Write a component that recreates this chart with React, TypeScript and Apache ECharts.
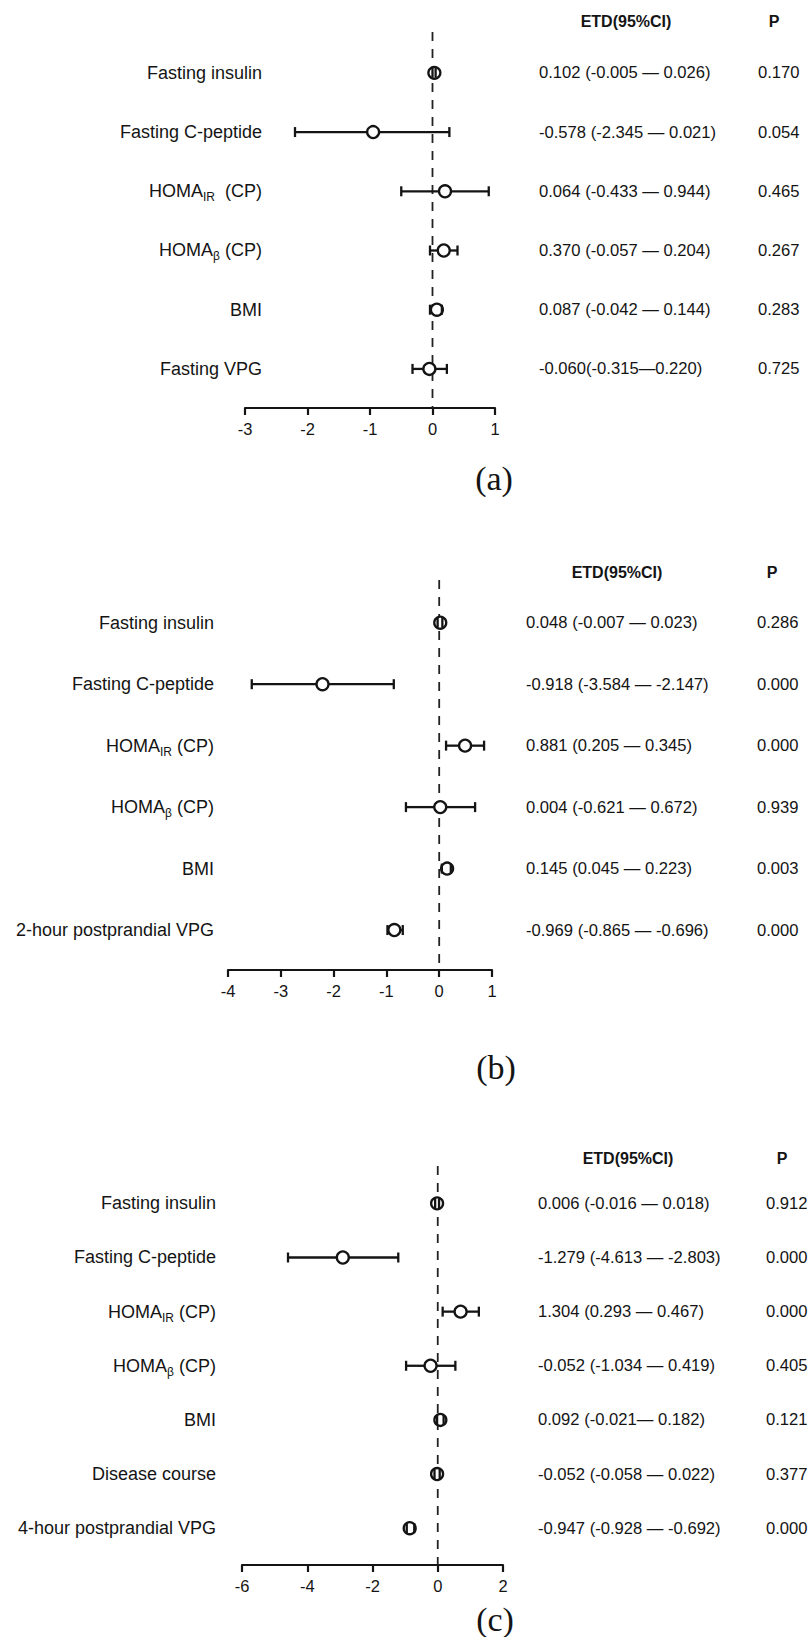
import React, { useEffect, useRef } from 'react';
import * as echarts from 'echarts';

const FONT = '"Liberation Sans", Arial, Helvetica, sans-serif';
const SERIF = '"Liberation Serif", "Times New Roman", serif';
const INK = '#141414';

// ---------- Panel (a) ----------
const labelsA = ['Fasting insulin', 'Fasting C-peptide', 'HOMA_IR  (CP)', 'HOMA_β (CP)', 'BMI', 'Fasting VPG'];
const estA = [0.03, -0.95, 0.2, 0.18, 0.07, -0.05];
const loA = [0.0, -2.2, -0.5, -0.04, -0.04, -0.32];
const hiA = [0.05, 0.27, 0.9, 0.4, 0.15, 0.23];
const etdA = ['0.102 (-0.005 — 0.026)', '-0.578 (-2.345 — 0.021)', '0.064 (-0.433 — 0.944)', '0.370 (-0.057 — 0.204)', '0.087 (-0.042 — 0.144)', '-0.060(-0.315—0.220)'];
const pA = ['0.170', '0.054', '0.465', '0.267', '0.283', '0.725'];

// ---------- Panel (b) ----------
const labelsB = ['Fasting insulin', 'Fasting C-peptide', 'HOMA_IR (CP)', 'HOMA_β (CP)', 'BMI', '2-hour postprandial VPG'];
const estB = [0.02, -2.21, 0.49, 0.02, 0.15, -0.85];
const loB = [-0.03, -3.55, 0.13, -0.63, 0.05, -0.98];
const hiB = [0.06, -0.86, 0.85, 0.68, 0.22, -0.69];
const etdB = ['0.048 (-0.007 — 0.023)', '-0.918 (-3.584 — -2.147)', '0.881 (0.205 — 0.345)', '0.004 (-0.621 — 0.672)', '0.145 (0.045 — 0.223)', '-0.969 (-0.865 — -0.696)'];
const pB = ['0.286', '0.000', '0.000', '0.939', '0.003', '0.000'];

// ---------- Panel (c) ----------
const labelsC = ['Fasting insulin', 'Fasting C-peptide', 'HOMA_IR (CP)', 'HOMA_β (CP)', 'BMI', 'Disease course', '4-hour postprandial VPG'];
const estC = [-0.02, -2.91, 0.7, -0.22, 0.08, -0.02, -0.86];
const loC = [-0.08, -4.59, 0.15, -0.97, -0.02, -0.1, -0.95];
const hiC = [0.04, -1.21, 1.26, 0.54, 0.18, 0.06, -0.72];
const etdC = ['0.006 (-0.016 — 0.018)', '-1.279 (-4.613 — -2.803)', '1.304 (0.293 — 0.467)', '-0.052 (-1.034 — 0.419)', '0.092 (-0.021— 0.182)', '-0.052 (-0.058 — 0.022)', '-0.947 (-0.928 — -0.692)'];
const pC = ['0.912', '0.000', '0.000', '0.405', '0.121', '0.377', '0.000'];

const headerETD = 'ETD(95%CI)';
const headerP = 'P';
const tags = ['(a)', '(b)', '(c)'];

const panels = [
  {
    labels: labelsA, est: estA, lo: loA, hi: hiA, etd: etdA, p: pA,
    xMin: -3, xMax: 1, interval: 1,
    grid: { left: 245, top: 32, width: 250, height: 376 },
    yMin: -0.69, yMax: 5.66,
    labelRight: 262, etdX: 539, pX: 758, headY: 21, etdHeadX: 626, pHeadX: 774,
    tagX: 494, tagY: 478,
  },
  {
    labels: labelsB, est: estB, lo: loB, hi: hiB, etd: etdB, p: pB,
    xMin: -4, xMax: 1, interval: 1,
    grid: { left: 228, top: 580, width: 264, height: 390 },
    yMin: -0.695, yMax: 5.65,
    labelRight: 214, etdX: 526, pX: 757, headY: 572, etdHeadX: 617, pHeadX: 772,
    tagX: 496, tagY: 1067,
  },
  {
    labels: labelsC, est: estC, lo: loC, hi: hiC, etd: etdC, p: pC,
    xMin: -6, xMax: 2, interval: 2,
    grid: { left: 242, top: 1166, width: 261, height: 399 },
    yMin: -0.69, yMax: 6.68,
    labelRight: 216, etdX: 538, pX: 766, headY: 1158, etdHeadX: 628, pHeadX: 782,
    tagX: 495, tagY: 1619,
  },
];

function richLabel(s: string): string {
  const m = s.match(/^(.*?)_(\S+)(.*)$/);
  if (!m) return '{n|' + s + '}';
  return '{n|' + m[1] + '}{s|' + m[2] + '}{n|' + m[3] + '}';
}

const LABEL_SIZE = 18;
const TABLE_SIZE = 16.6;

function buildOption() {
  const grid: any[] = [];
  const xAxis: any[] = [];
  const yAxis: any[] = [];
  const series: any[] = [];
  const graphic: any[] = [];

  panels.forEach((pn, k) => {
    grid.push({ ...pn.grid, containLabel: false });
    xAxis.push({
      type: 'value', gridIndex: k, min: pn.xMin, max: pn.xMax, interval: pn.interval,
      position: 'bottom',
      axisLine: { show: true, onZero: false, lineStyle: { color: INK, width: 2.2 } },
      axisTick: { show: true, inside: false, length: 7, lineStyle: { color: INK, width: 2.2 } },
      axisLabel: { show: true, color: INK, fontSize: 16.5, fontFamily: FONT, margin: 12 },
      splitLine: { show: false },
    });
    yAxis.push({ type: 'value', gridIndex: k, inverse: true, min: pn.yMin, max: pn.yMax, show: false });

    // dashed reference line at 0
    series.push({
      type: 'line', xAxisIndex: k, yAxisIndex: k, z: 1, silent: true,
      data: [[0, pn.yMin], [0, pn.yMax]], symbol: 'none',
      lineStyle: { color: '#222', width: 1.8, type: [9, 8] },
    });
    // point estimates
    series.push({
      type: 'scatter', xAxisIndex: k, yAxisIndex: k, z: 3, silent: true,
      data: pn.est.map((v, i) => [v, i]),
      symbol: 'circle', symbolSize: 12,
      itemStyle: { color: '#ffffff', borderColor: INK, borderWidth: 2.3, opacity: 1 },
    });
    // confidence intervals
    series.push({
      type: 'custom', xAxisIndex: k, yAxisIndex: k, z: 4, silent: true,
      encode: { x: [0, 1, 3], y: 2 },
      data: pn.lo.map((l, i) => [l, pn.hi[i], i, pn.est[i]]),
      renderItem: (params: any, api: any) => {
        const yv = api.value(2);
        const p0 = api.coord([api.value(0), yv]);
        const p1 = api.coord([api.value(1), yv]);
        const pc = api.coord([api.value(3), yv]);
        const r = 6;
        const st = { stroke: INK, lineWidth: 2.3 };
        const children: any[] = [];
        const leftEnd = Math.min(p1[0], pc[0] - r);
        if (leftEnd > p0[0]) children.push({ type: 'line', shape: { x1: p0[0], y1: p0[1], x2: leftEnd, y2: p0[1] }, style: st });
        const rightStart = Math.max(p0[0], pc[0] + r);
        if (p1[0] > rightStart) children.push({ type: 'line', shape: { x1: rightStart, y1: p0[1], x2: p1[0], y2: p0[1] }, style: st });
        children.push({ type: 'line', shape: { x1: p0[0], y1: p0[1] - 5, x2: p0[0], y2: p0[1] + 5 }, style: st });
        children.push({ type: 'line', shape: { x1: p1[0], y1: p1[1] - 5, x2: p1[0], y2: p1[1] + 5 }, style: st });
        return { type: 'group', children };
      },
    });
    // row labels and table texts
    series.push({
      type: 'custom', xAxisIndex: k, yAxisIndex: k, z: 5, silent: true, clip: false,
      encode: { x: 0, y: 1 },
      data: pn.labels.map((_, i) => [0, i]),
      renderItem: (params: any, api: any) => {
        const i = params.dataIndex;
        const y = api.coord([0, api.value(1)])[1];
        return {
          type: 'group',
          children: [
            {
              type: 'text', x: pn.labelRight, y,
              style: {
                text: richLabel(pn.labels[i]), align: 'right', verticalAlign: 'middle',
                rich: {
                  n: { fontSize: LABEL_SIZE, fontFamily: FONT, fill: INK, lineHeight: 24, verticalAlign: 'middle' },
                  s: { fontSize: 12, fontFamily: FONT, fill: INK, lineHeight: 14, verticalAlign: 'bottom' },
                },
              },
            },
            {
              type: 'text', x: pn.etdX, y,
              style: { text: pn.etd[i], fontSize: TABLE_SIZE, fontFamily: FONT, fill: INK, align: 'left', verticalAlign: 'middle' },
            },
            {
              type: 'text', x: pn.pX, y,
              style: { text: pn.p[i], fontSize: TABLE_SIZE, fontFamily: FONT, fill: INK, align: 'left', verticalAlign: 'middle' },
            },
          ],
        };
      },
    });

    graphic.push({
      type: 'text', x: pn.etdHeadX, y: pn.headY,
      style: { text: headerETD, fontSize: 16, fontWeight: 'bold', fontFamily: FONT, fill: INK, align: 'center', verticalAlign: 'middle' },
    });
    graphic.push({
      type: 'text', x: pn.pHeadX, y: pn.headY,
      style: { text: headerP, fontSize: 16, fontWeight: 'bold', fontFamily: FONT, fill: INK, align: 'center', verticalAlign: 'middle' },
    });
    graphic.push({
      type: 'text', x: pn.tagX, y: pn.tagY,
      style: { text: tags[k], fontSize: 34, fontFamily: SERIF, fill: INK, align: 'center', verticalAlign: 'middle' },
    });
  });

  return {
    animation: false,
    backgroundColor: '#ffffff',
    grid, xAxis, yAxis, series, graphic,
  };
}

export default function App() {
  const ref = useRef<HTMLDivElement>(null);
  useEffect(() => {
    document.body.style.margin = '0';
    const chart = echarts.init(ref.current!, undefined, { renderer: 'svg' });
    chart.setOption(buildOption() as any);
    return () => chart.dispose();
  }, []);
  return (
    <div
      ref={ref}
      style={{ position: 'absolute', left: 0, top: 0, width: 811, height: 1637, background: '#fff' }}
    />
  );
}
